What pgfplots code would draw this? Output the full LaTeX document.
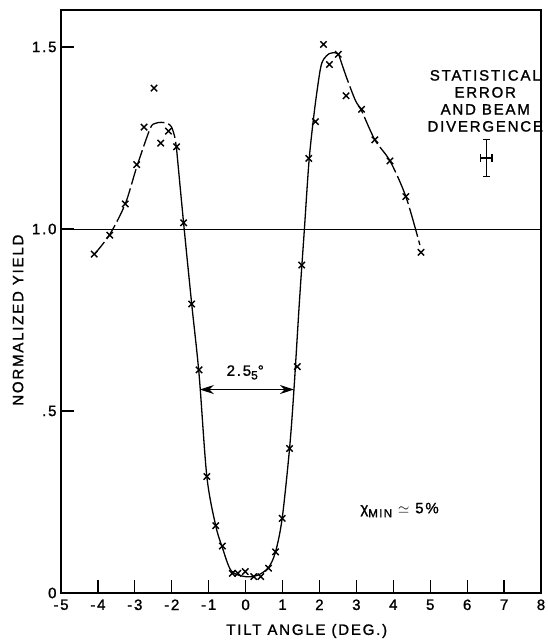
\documentclass[border=0pt]{standalone}
\usepackage{pgfplots}
\pgfplotsset{compat=1.18}
\usepackage{fontspec}
\setmainfont{Liberation Sans}[LetterSpace=12, FakeBold=1.3]
\usetikzlibrary{arrows.meta}
\begin{document}
\begin{tikzpicture}[font=\fontsize{15}{17}\selectfont]
\begin{axis}[
  name=ax,
  scale only axis,
  width=480pt, height=583pt,
  xmin=-5, xmax=8, ymin=0, ymax=1.6017,
  axis line style={line width=1.4pt},
  xtick={-5,-4,-3,-2,-1,0,1,2,3,4,5,6,7,8},
  xticklabels={-5,-4,-3,-2,-1,0,1,2,3,4,5,6,7,8},
  ytick={0,0.5,1.0,1.5},
  yticklabels={0,.5,1.0,1.5},
  xtick pos=bottom, ytick pos=left,
  tick align=inside,
  major tick length=13pt,
  tick style={line width=1.2pt, black},
  xticklabel style={yshift=-3pt},
  yticklabel style={xshift=-1pt},
  xlabel={TILT ANGLE (DEG.)},
  ylabel={NORMALIZED YIELD},
  xlabel style={at={([yshift=-38pt]axis description cs:0.512,0)}, anchor=center},
  ylabel style={at={([xshift=-43pt]axis description cs:0,0.468)}, anchor=center},
  clip=false,
]
% reference line at 1.0
\addplot[black, line width=1pt] coordinates {(-5,1) (8,1)};
% fitted curve, left part (dashed)
\addplot[black, line width=1.3pt, smooth, dash pattern=on 16pt off 4pt] coordinates {
(-4.10,0.930) (-3.68,0.985) (-3.26,1.069) (-2.95,1.170) (-2.59,1.275)
(-2.45,1.290) (-2.28,1.293) (-2.12,1.290) (-2.01,1.281) (-1.92,1.253) (-1.87,1.220)};
% central dip (solid)
\addplot[black, line width=1.3pt, smooth] coordinates {
(-1.87,1.220) (-1.68,1.017) (-1.46,0.794) (-1.26,0.600) (-1.05,0.320)
(-0.81,0.185) (-0.63,0.125) (-0.39,0.061) (-0.01,0.045) (0.33,0.049)
(0.62,0.070) (0.81,0.113) (0.99,0.205) (1.19,0.397) (1.31,0.560)
(1.46,0.805) (1.59,0.997) (1.72,1.190) (1.87,1.330) (2.02,1.437)
(2.11,1.466) (2.27,1.482) (2.43,1.484) (2.52,1.480)};
% right descending part (dashed)
\addplot[black, line width=1.3pt, smooth, dash pattern=on 30pt off 4pt] coordinates {
(2.52,1.480) (2.72,1.420) (2.97,1.354) (3.14,1.325) (3.50,1.245)
(3.91,1.187) (4.34,1.089) (4.72,0.956)};
% data points
\addplot[only marks, mark=x, mark size=4.5pt, mark options={line width=1.4pt}, black] coordinates {
(-4.10,0.931) (-3.68,0.983) (-3.26,1.069) (-2.95,1.177) (-2.75,1.280)
(-2.48,1.387) (-2.30,1.236) (-2.09,1.269) (-1.87,1.226) (-1.68,1.017)
(-1.46,0.794) (-1.26,0.613) (-1.05,0.320) (-0.81,0.185) (-0.63,0.129)
(-0.36,0.054) (-0.21,0.054) (-0.01,0.059) (0.22,0.045) (0.41,0.045)
(0.62,0.068) (0.81,0.113) (0.99,0.205) (1.19,0.397) (1.40,0.622)
(1.52,0.901) (1.71,1.194) (1.89,1.295) (2.11,1.507) (2.27,1.452)
(2.51,1.480) (2.72,1.366) (3.14,1.329) (3.50,1.245) (3.91,1.187)
(4.34,1.089) (4.75,0.936)};
% statistical error and beam divergence
\addplot[black, line width=1.2pt, draw=none,
  error bars/.cd, x dir=both, x explicit, y dir=both, y explicit,
  error mark=-, error bar style={line width=1.3pt},
  error mark options={line width=1.3pt, mark size=3.8pt, rotate=90}]
  coordinates {(6.52,1.195) +- (0.15,0.05)};
\node[align=center] at (axis cs:6.49,1.352)
  {STATISTICAL\\ERROR\\AND BEAM\\DIVERGENCE};
% width annotation
\draw[black, line width=1.3pt, {Stealth[length=14pt,width=9pt]}-{Stealth[length=14pt,width=9pt]}]
  (axis cs:-1.24,0.559) -- (axis cs:1.31,0.559);
\node at (axis cs:-0.01,0.606) {2.5\raisebox{-0.45ex}{\fontsize{12}{13}\selectfont 5}°};
\node at (axis cs:4.17,0.228) {χ\raisebox{-0.5ex}{\fontsize{11.5}{12}\selectfont MIN} $\simeq$ 5\%};
\end{axis}
\pgfresetboundingbox
\path ([shift={(-61pt,-49pt)}]ax.south west) rectangle ([shift={(6pt,10pt)}]ax.north east);
\end{tikzpicture}
\end{document}
